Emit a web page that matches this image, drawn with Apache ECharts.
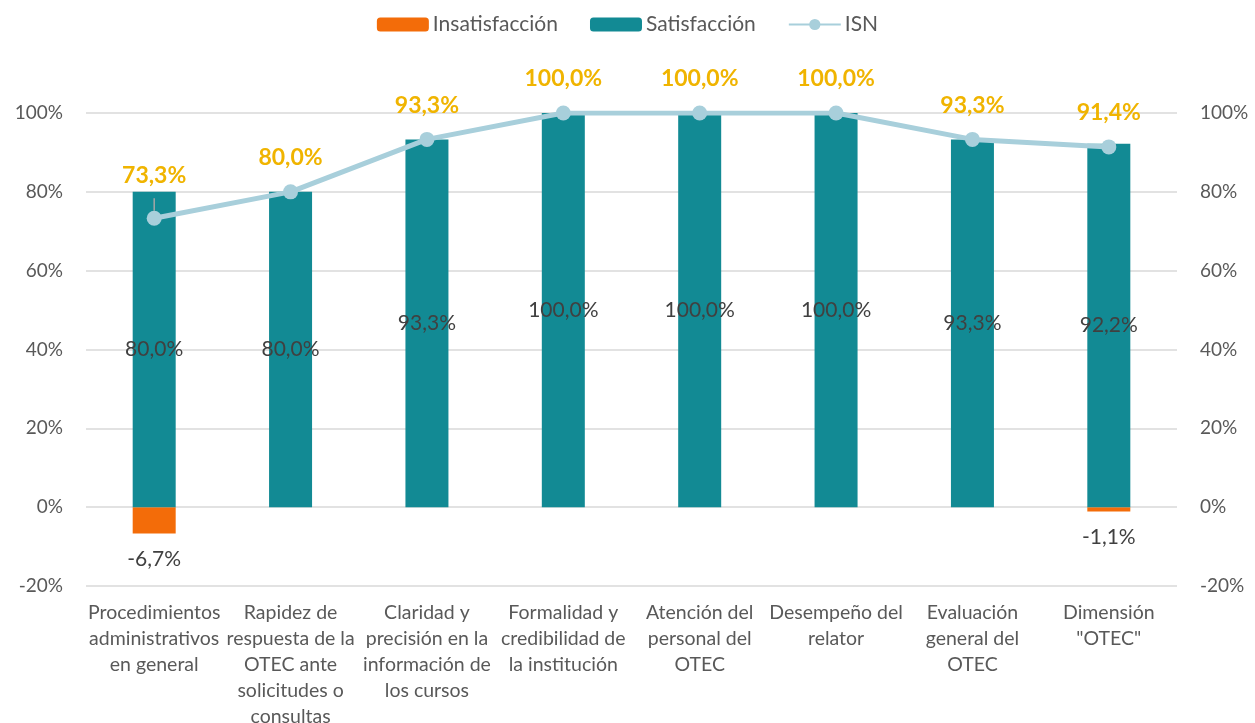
<!DOCTYPE html>
<html>
<head>
<meta charset="utf-8">
<script src="https://cdn.jsdelivr.net/npm/echarts@6/dist/echarts.min.js"></script>
<style>
  html, body { margin: 0; padding: 0; background: #fff; }
  #chart { width: 1255px; height: 723px; }
</style>
</head>
<body>
<div id="chart"></div>
<script>
const categories = [
  "Procedimientos\nadministrativos\nen general",
  "Rapidez de\nrespuesta de la\nOTEC ante\nsolicitudes o\nconsultas",
  "Claridad y\nprecisión en la\ninformación de\nlos cursos",
  "Formalidad y\ncredibilidad de\nla institución",
  "Atención del\npersonal del\nOTEC",
  "Desempeño del\nrelator",
  "Evaluación\ngeneral del\nOTEC",
  "Dimensión\n\"OTEC\""
];
const insatisfaccion = [-6.7, 0, 0, 0, 0, 0, 0, -1.1];
const satisfaccion = [80.0, 80.0, 93.3, 100.0, 100.0, 100.0, 93.3, 92.2];
const isn = [73.3, 80.0, 93.3, 100.0, 100.0, 100.0, 93.3, 91.4];
const tickLabels = { min: -20, max: 100, step: 20 };

const fmt = (v) => v.toFixed(1).replace(".", ",") + "%";
const FONT = "Lato";

const chart = echarts.init(document.getElementById("chart"));

const yAxisBase = {
  type: "value",
  min: tickLabels.min,
  max: tickLabels.max,
  interval: tickLabels.step,
  axisLine: { show: false },
  axisTick: { show: false },
  axisLabel: {
    formatter: "{value}%",
    color: "#595959",
    fontSize: 19,
    margin: 23,
    fontFamily: FONT
  }
};

const option = {
  animation: false,
  textStyle: { fontFamily: FONT },
  legend: {
    top: 9,
    left: "center",
    itemWidth: 52,
    itemHeight: 14,
    itemGap: 32,
    textStyle: { color: "#595959", fontSize: 21, fontFamily: FONT, padding: [0, 0, 0, -1] },
    data: ["Insatisfacción", "Satisfacción", "ISN"]
  },
  grid: { left: 86, right: 78, top: 113, bottom: 137, outerBoundsMode: "none" },
  xAxis: {
    type: "category",
    data: categories,
    axisLine: { show: false },
    axisTick: { show: false },
    axisLabel: {
      interval: 0,
      color: "#595959",
      fontSize: 19.5,
      lineHeight: 26,
      margin: 14,
      fontFamily: FONT
    }
  },
  yAxis: [
    Object.assign({}, yAxisBase, {
      position: "left",
      splitLine: { lineStyle: { color: "#d9d9d9", width: 1.5 } }
    }),
    Object.assign({}, yAxisBase, {
      position: "right",
      splitLine: { show: false }
    })
  ],
  series: [
    {
      name: "Insatisfacción",
      type: "bar",
      stack: "total",
      barWidth: 43,
      itemStyle: { color: "#F36C09" },
      data: insatisfaccion.map((v) => ({
        value: v,
        label: { show: v !== 0 }
      })),
      label: {
        position: "bottom",
        distance: 15,
        color: "#404040",
        fontSize: 21,
        fontFamily: FONT,
        formatter: (p) => fmt(p.value)
      }
    },
    {
      name: "Satisfacción",
      type: "bar",
      stack: "total",
      barWidth: 43,
      itemStyle: { color: "#128A94" },
      data: satisfaccion,
      label: {
        show: true,
        position: "inside",
        color: "#404040",
        fontSize: 21,
        fontFamily: FONT,
        formatter: (p) => fmt(p.value)
      }
    },
    {
      name: "ISN",
      type: "line",
      symbol: "circle",
      symbolSize: 15,
      z: 5,
      lineStyle: { color: "#A8CFDB", width: 5 },
      itemStyle: { color: "#A8CFDB" },
      data: isn.map((v, i) =>
        i === 0
          ? { value: v, label: { distance: 24 }, labelLine: { show: true, lineStyle: { color: "#a6a6a6", width: 1.5 } } }
          : v
      ),
      label: {
        show: true,
        position: "top",
        distance: 15,
        color: "#F0B400",
        fontWeight: "bold",
        fontSize: 23,
        fontFamily: FONT,
        formatter: (p) => fmt(p.value)
      }
    }
  ]
};

chart.setOption(option);
</script>
</body>
</html>
